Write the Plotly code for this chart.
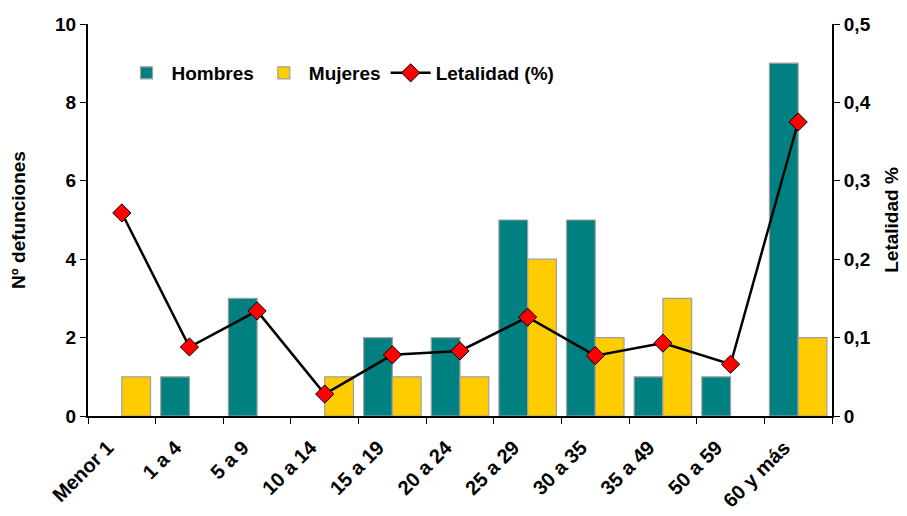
import plotly.graph_objects as go

# Age groups and values
grupos = ['Menor 1', '1 a 4', '5 a 9', '10 a 14', '15 a 19', '20 a 24',
          '25 a 29', '30 a 35', '35 a 49', '50 a 59', '60 y más']
hombres = [0, 1, 3, 0, 2, 2, 5, 5, 1, 1, 9]
mujeres = [1, 0, 0, 1, 1, 1, 4, 2, 3, 0, 2]
letalidad = [0.259, 0.088, 0.134, 0.028, 0.078, 0.083, 0.126, 0.077, 0.093, 0.066, 0.375]

font_family = 'Arial, Liberation Sans, sans-serif'
bold = dict(size=19, family=font_family, weight='bold', color='black')

# zero-height bars are not drawn in the original (no outline stub)
hide_zero = lambda vals: [v if v else None for v in vals]

fig = go.Figure()
fig.add_trace(go.Bar(x=grupos, y=hide_zero(hombres), name='Hombres',
                     marker=dict(color='#008080', line=dict(color='#a0a0a0', width=1.2))))
fig.add_trace(go.Bar(x=grupos, y=hide_zero(mujeres), name='Mujeres',
                     marker=dict(color='#ffcc00', line=dict(color='#a0a0a0', width=1.2))))
fig.add_trace(go.Scatter(x=grupos, y=letalidad, name='Letalidad (%)', yaxis='y2',
                         mode='lines+markers',
                         line=dict(color='black', width=2.5),
                         marker=dict(symbol='diamond', size=14, color='#ff0000',
                                     line=dict(color='black', width=1))))

# page body has an 8px margin, so the figure is 8px smaller and margins shifted
fig.update_layout(
    width=899, height=508,
    margin=dict(l=80, r=75, t=16, b=100, autoexpand=False),
    plot_bgcolor='white', paper_bgcolor='white',
    font=dict(family=font_family, size=19, color='black'),
    separators=',.',
    barmode='group', bargap=0.15, bargroupgap=0.0,
    showlegend=True,
    legend=dict(orientation='h', x=0.045, y=0.875, xanchor='left', yanchor='middle',
                font=bold, bgcolor='rgba(0,0,0,0)', itemwidth=40, tracegroupgap=0),
    xaxis=dict(type='category', range=[-0.5, len(grupos) - 0.5],
               showline=True, linecolor='black', linewidth=2,
               ticks='outside', tickson='boundaries', ticklen=6, tickcolor='black',
               tickangle=-45, showgrid=False, tickfont=dict(bold, size=20),
               ticklabelshift=-14, ticklabelstandoff=10),
    yaxis=dict(range=[0, 10], dtick=2, showline=True, linecolor='black', linewidth=2,
               ticks='outside', ticklen=6, tickcolor='black', showgrid=False, zeroline=False,
               tickfont=bold,
               title=dict(text='Nº defunciones', standoff=24, font=bold)),
    yaxis2=dict(range=[0, 0.5], dtick=0.1, overlaying='y', side='right',
                showline=True, linecolor='black', linewidth=2,
                ticks='outside', ticklen=6, tickcolor='black', showgrid=False, zeroline=False,
                tickfont=bold,
                title=dict(text='Letalidad %', standoff=15, font=bold)),
)

fig.write_html('out.html')
